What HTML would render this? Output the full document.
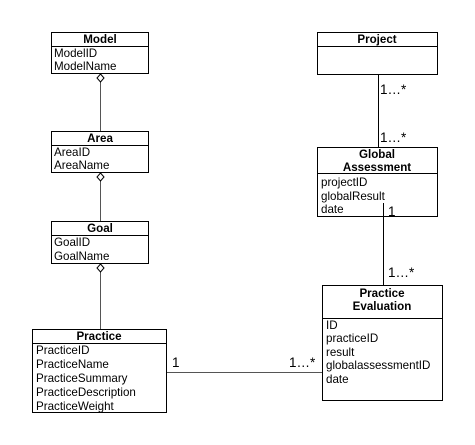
<!DOCTYPE html>
<html><head><meta charset="utf-8"><style>
html,body{margin:0;padding:0;background:#fff}
svg{display:block}
text{font-family:"Liberation Sans",Arial,sans-serif;font-size:11.6px;fill:#000}
.b{font-weight:bold;text-anchor:middle}
.m{font-size:13.5px}
</style></head><body>
<svg width="475" height="445" viewBox="0 0 475 445" xmlns="http://www.w3.org/2000/svg">
<g stroke="#000" fill="none" stroke-width="1">
<line x1="100.5" y1="82" x2="100.5" y2="131" stroke="#555"/>
<line x1="100.5" y1="181" x2="100.5" y2="221" stroke="#555"/>
<line x1="100.5" y1="272" x2="100.5" y2="329" stroke="#555"/>
<line x1="378.5" y1="75" x2="378.5" y2="147"/>
<line x1="383.5" y1="203" x2="383.5" y2="285"/>
<line x1="167" y1="372.5" x2="322" y2="372.5" stroke="#555"/>
<path d="M100.5 74 L104 78 L100.5 82 L97 78 Z" fill="#fff"/>
<path d="M100.5 173 L104 177 L100.5 181 L97 177 Z" fill="#fff"/>
<path d="M100.5 264 L104 268 L100.5 272 L97 268 Z" fill="#fff"/>
<rect x="51.5" y="32.5" width="97" height="41" fill="#fff"/><line x1="51.5" y1="46.5" x2="148.5" y2="46.5"/>
<rect x="51.5" y="131.5" width="97" height="41" fill="#fff"/><line x1="51.5" y1="145.5" x2="148.5" y2="145.5"/>
<rect x="51.5" y="221.5" width="97" height="42" fill="#fff"/><line x1="51.5" y1="235.5" x2="148.5" y2="235.5"/>
<rect x="32.5" y="329.5" width="134" height="83" fill="#fff"/><line x1="32.5" y1="343.5" x2="166.5" y2="343.5"/>
<rect x="317.5" y="32.5" width="120" height="42" fill="#fff"/><line x1="317.5" y1="46.5" x2="437.5" y2="46.5"/>
<rect x="317.5" y="147.5" width="120" height="69" fill="#fff"/><line x1="317.5" y1="173.5" x2="437.5" y2="173.5"/>
<rect x="322.5" y="285.5" width="120" height="115" fill="#fff"/><line x1="322.5" y1="318.5" x2="442.5" y2="318.5"/>
</g>
<line x1="383.5" y1="203" x2="383.5" y2="216" stroke="#000"/>
<text class="b" x="100" y="43">Model</text>
<text x="54" y="57">ModelID</text><text x="54" y="70">ModelName</text>
<text class="b" x="100" y="142">Area</text>
<text x="54" y="156">AreaID</text><text x="54" y="169">AreaName</text>
<text class="b" x="100" y="232">Goal</text>
<text x="54" y="246">GoalID</text><text x="54" y="260">GoalName</text>
<text class="b" x="99" y="340">Practice</text>
<text x="36" y="354">PracticeID</text><text x="36" y="368">PracticeName</text><text x="36" y="382">PracticeSummary</text><text x="36" y="396">PracticeDescription</text><text x="36" y="410">PracticeWeight</text>
<text class="b" x="377" y="43">Project</text>
<text class="b" x="377" y="158">Global</text><text class="b" x="377" y="171">Assessment</text>
<text x="321" y="186">projectID</text><text x="321" y="200">globalResult</text><text x="321" y="213">date</text>
<text class="b" x="382" y="297">Practice</text><text class="b" x="382" y="310">Evaluation</text>
<text x="326" y="329">ID</text><text x="326" y="342">practiceID</text><text x="326" y="356">result</text><text x="326" y="369">globalassessmentID</text><text x="326" y="383">date</text>
<text class="m" x="380" y="94">1…*</text>
<text class="m" x="380" y="142">1…*</text>
<text class="m" x="388" y="216">1</text>
<text class="m" x="388" y="277">1…*</text>
<text class="m" x="172" y="367">1</text>
<text class="m" x="289" y="367">1…*</text>
</svg>
</body></html>
